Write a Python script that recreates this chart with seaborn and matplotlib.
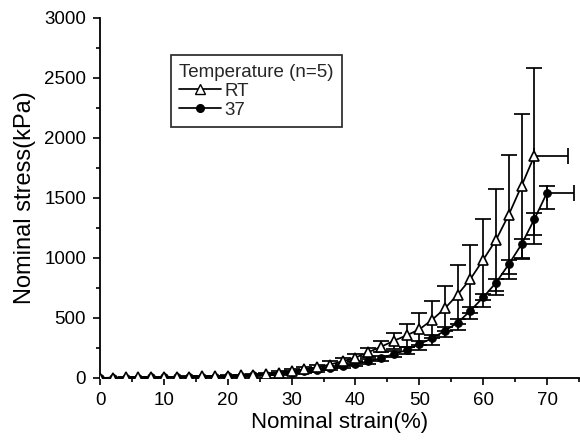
import numpy as np
import pandas as pd
import matplotlib
matplotlib.use("Agg")
import matplotlib.pyplot as plt
from matplotlib.lines import Line2D
from matplotlib.ticker import MultipleLocator
import seaborn as sns

# ---- data ----
strain_rt = [0, 2, 4, 6, 8, 10, 12, 14, 16, 18, 20, 22, 24, 26, 28, 30, 32, 34,
             36, 38, 40, 42, 44, 46, 48, 50, 52, 54, 56, 58, 60, 62, 64, 66, 68]
stress_rt = [0, 3, 5, 6, 7, 8, 10, 12, 14, 16, 19, 23, 28, 35, 45, 57, 72, 90,
             112, 140, 170, 215, 260, 310, 355, 405, 485, 580, 695, 825, 985,
             1150, 1360, 1600, 1850]
err_rt = [0, 1, 1, 1, 2, 2, 2, 3, 3, 4, 4, 5, 7, 9, 12, 15, 18, 22,
          26, 30, 34, 36, 45, 65, 95, 133, 153, 188, 244, 286, 339,
          422, 495, 600, 736]
xerr_rt_last = 5.2

strain_37 = [0, 2, 4, 6, 8, 10, 12, 14, 16, 18, 20, 22, 24, 26, 28, 30, 32, 34,
             36, 38, 40, 42, 44, 46, 48, 50, 52, 54, 56, 58, 60, 62, 64, 66, 68, 70]
stress_37 = [0, 2, 3, 4, 5, 6, 7, 8, 10, 12, 14, 17, 21, 27, 35, 45, 56, 68,
             82, 100, 118, 138, 165, 200, 232, 283, 330, 394, 461, 561, 672,
             794, 947, 1114, 1322, 1545]
err_37_lo = [0, 1, 1, 1, 1, 1, 2, 2, 2, 3, 3, 4, 5, 6, 8, 10, 12, 14,
             16, 18, 20, 22, 25, 28, 35, 50, 53, 55, 58, 72, 80,
             100, 125, 125, 130, 140]
err_37_hi = [0, 1, 1, 1, 1, 1, 2, 2, 2, 3, 3, 4, 5, 6, 8, 10, 12, 14,
             16, 18, 20, 22, 22, 24, 26, 28, 30, 30, 32, 34, 30,
             34, 36, 44, 55, 55]
xerr_37_last = 4.2

legend_title = "Temperature (n=5)"
labels = ["RT", "37"]

# ---- figure ----
sns.set_theme(style="ticks")
plt.rcParams["font.family"] = ["Liberation Sans", "DejaVu Sans"]

fig = plt.figure(figsize=(5.8, 4.47), dpi=100)
ax = fig.add_axes([100 / 580, 1 - 378 / 447, 479 / 580, 360 / 447])

df_rt = pd.DataFrame({"strain": strain_rt, "stress": stress_rt})
df_37 = pd.DataFrame({"strain": strain_37, "stress": stress_37})

lw = 1.25
cap = 5.5
# error bars
ax.errorbar(strain_rt, stress_rt, yerr=err_rt, fmt="none", ecolor="black",
            elinewidth=lw, capsize=cap, capthick=lw, zorder=2)
ax.errorbar([strain_rt[-1]], [stress_rt[-1]], xerr=[[0], [xerr_rt_last]],
            fmt="none", ecolor="black", elinewidth=lw, capsize=cap, capthick=lw, zorder=2)
ax.errorbar(strain_37, stress_37, yerr=[err_37_lo, err_37_hi], fmt="none",
            ecolor="black", elinewidth=lw, capsize=cap, capthick=lw, zorder=2)
ax.errorbar([strain_37[-1]], [stress_37[-1]], xerr=[[0], [xerr_37_last]],
            fmt="none", ecolor="black", elinewidth=lw, capsize=cap, capthick=lw, zorder=2)

sns.lineplot(data=df_37, x="strain", y="stress", ax=ax, color="black",
             linewidth=lw, marker="o", markersize=5.5, markerfacecolor="black",
             markeredgecolor="black", zorder=3)
sns.lineplot(data=df_rt, x="strain", y="stress", ax=ax, color="black",
             linewidth=lw, marker="^", markersize=7.5, markerfacecolor="white",
             markeredgecolor="black", markeredgewidth=1.2, zorder=4)

ax.set_xlim(0, 75)
ax.set_ylim(0, 3000)
ax.xaxis.set_major_locator(MultipleLocator(10))
ax.xaxis.set_minor_locator(MultipleLocator(5))
ax.yaxis.set_major_locator(MultipleLocator(500))
ax.yaxis.set_minor_locator(MultipleLocator(250))
ax.tick_params(which="major", length=5, width=1.2, labelsize=13.5, pad=5,
               colors="black", direction="out")
ax.tick_params(which="minor", length=3, width=1.2, direction="out", colors="black")
for s in ["top", "right"]:
    ax.spines[s].set_visible(False)
for s in ["left", "bottom"]:
    ax.spines[s].set_linewidth(1.3)
    ax.spines[s].set_color("black")

ax.set_xlabel("Nominal strain(%)", fontsize=16, labelpad=2, color="black")
ax.set_ylabel("Nominal stress(kPa)", fontsize=17, labelpad=6, color="black")

handles = [
    Line2D([], [], color="black", linewidth=lw, marker="^", markersize=7.5,
           markerfacecolor="white", markeredgecolor="black"),
    Line2D([], [], color="black", linewidth=lw, marker="o", markersize=5.5,
           markerfacecolor="black", markeredgecolor="black"),
]
leg = ax.legend(handles, labels, title=legend_title, loc="upper left",
                bbox_to_anchor=(0.148, 0.897), borderaxespad=0,
                fontsize=13.5, title_fontsize=13.5, frameon=True, fancybox=False,
                handlelength=2.2, handletextpad=0.2, labelspacing=0.1,
                borderpad=0.45, alignment="left")
leg.get_frame().set_edgecolor("black")
leg.get_frame().set_linewidth(1.3)

fig.savefig("out.png", dpi=100, facecolor="white")
